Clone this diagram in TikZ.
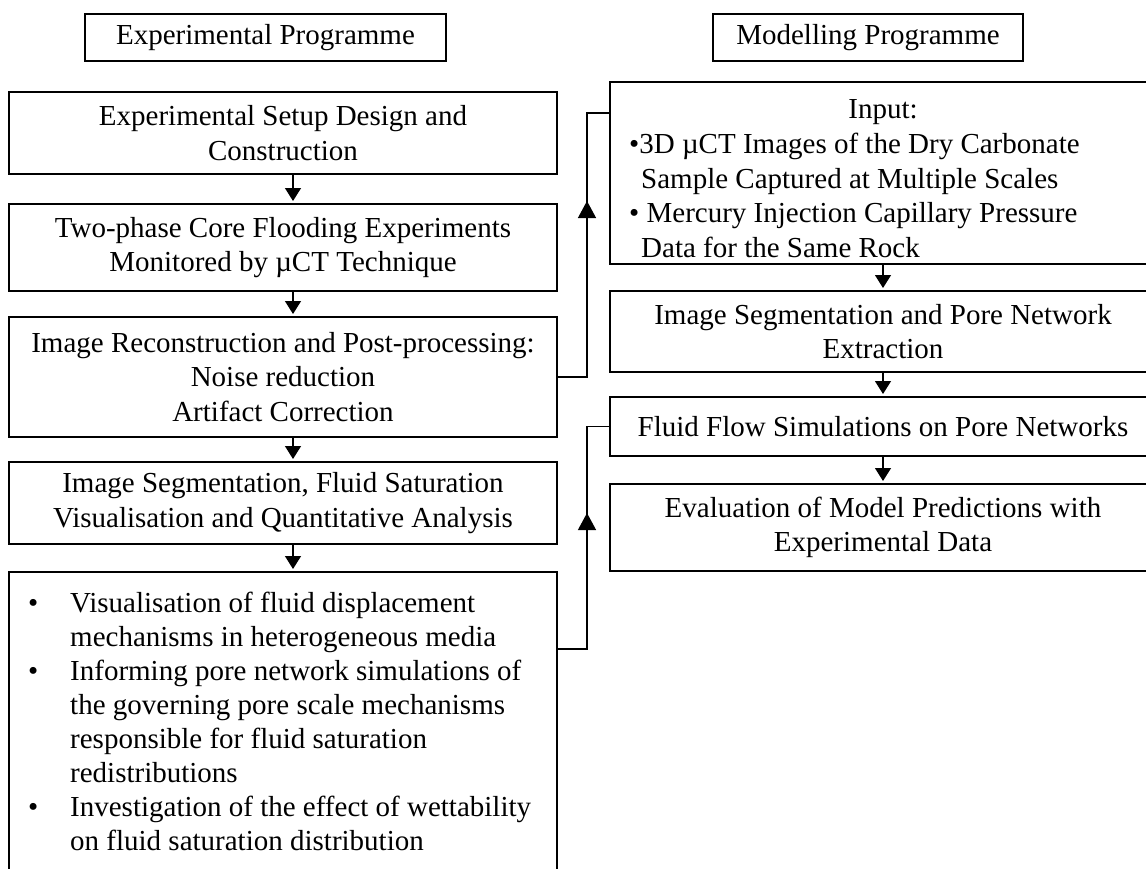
\documentclass[tikz,border=0pt]{standalone}
\usepackage{fontspec}
\setmainfont{Liberation Serif}
\usetikzlibrary{arrows.meta,decorations.markings}
\begin{document}
\begin{tikzpicture}[x=1pt,y=-1pt,
  every node/.style={font=\fontsize{29}{34.5}\selectfont},
  box/.style={draw, line width=2pt, inner sep=0pt, align=center},
  titlebox/.style={draw, line width=1.8pt, inner sep=0pt, align=center, minimum height=47pt},
  flow/.style={line width=1.3pt, shorten >=2pt, -{Triangle[width=16pt,length=13pt]}},
  conn/.style={line width=1.3pt},
  upmark/.style={postaction={decorate}, decoration={markings, mark=at position #1 with {\arrow{Triangle[width=18pt,length=17pt]}}}},
  txt/.style={inner sep=0pt, anchor=base west}
]
\useasboundingbox (0,0) rectangle (1146,868);

% titles
\node[titlebox, minimum width=361pt] (tE) at (265.5,37.5) {Experimental Programme};
\node[titlebox, minimum width=310pt] (tM) at (868,37.5) {Modelling Programme};

% left column
\node[box, minimum width=548pt, minimum height=82pt] (b1) at (283,133) {Experimental Setup Design and\\Construction};
\node[box, minimum width=548pt, minimum height=87pt] (b2) at (283,247.5) {Two-phase Core Flooding Experiments\\Monitored by µCT Technique};
\node[box, minimum width=548pt, minimum height=120pt] (b3) at (283,377) {Image Reconstruction and Post-processing:\\Noise reduction\\Artifact Correction};
\node[box, minimum width=548pt, minimum height=82pt] (b4) at (283,503) {Image Segmentation, Fluid Saturation\\Visualisation and Quantitative Analysis};
\node[box, minimum width=548pt, minimum height=320pt, anchor=north] (b5) at (283,571) {};

\node[txt] (p1) at (28,612) {•};
\node[txt] (l1) at (70,612) {Visualisation of fluid displacement};
\node[txt] (l2) at (70,646) {mechanisms in heterogeneous media};
\node[txt] (p2) at (28,680) {•};
\node[txt] (l3) at (70,680) {Informing pore network simulations of};
\node[txt] (l4) at (70,714) {the governing pore scale mechanisms};
\node[txt] (l5) at (70,748) {responsible for fluid saturation};
\node[txt] (l6) at (70,782) {redistributions};
\node[txt] (p3) at (28,816) {•};
\node[txt] (l7) at (70,816) {Investigation of the effect of wettability};
\node[txt] (l8) at (70,850) {on fluid saturation distribution};

% right column
\node[box, minimum width=546pt, minimum height=182pt] (in) at (883,173) {};
\node[txt, anchor=base] (inH) at (883,118) {Input:};
\node[txt] (in1) at (629,153) {•3D µCT Images of the Dry Carbonate};
\node[txt] (in2) at (641,188) {Sample Captured at Multiple Scales};
\node[txt] (in3) at (629,222) {• Mercury Injection Capillary Pressure};
\node[txt] (in4) at (641,257) {Data for the Same Rock};

\node[box, minimum width=546pt, minimum height=81pt] (is) at (883,331.5) {Image Segmentation and Pore Network\\Extraction};
\node[box, minimum width=546pt, minimum height=59pt] (ff) at (883,426.5) {Fluid Flow Simulations on Pore Networks};
\node[box, minimum width=546pt, minimum height=87pt] (ev) at (883,527.5) {Evaluation of Model Predictions with\\Experimental Data};

% flow arrows
\coordinate (aL) at (293,0);
\coordinate (aR) at (883,0);
\draw[flow] (b1.south -| aL) -- (b2.north -| aL);
\draw[flow] (b2.south -| aL) -- (b3.north -| aL);
\draw[flow] (b3.south -| aL) -- (b4.north -| aL);
\draw[flow] (b4.south -| aL) -- (b5.north -| aL);
\draw[flow] (in.south -| aR) -- (is.north -| aR);
\draw[flow] (is.south -| aR) -- (ff.north -| aR);
\draw[flow] (ff.south -| aR) -- (ev.north -| aR);

% connectors between programmes
\coordinate (j1) at (587,113);
\coordinate (j2) at (587,649);
\draw[conn, upmark=205pt] (b3.east) -| (j1) -- (j1 -| in.west);
\draw[conn, upmark=165pt] (j2 -| b5.east) -- (j2) |- (ff.west);
\end{tikzpicture}
\end{document}
